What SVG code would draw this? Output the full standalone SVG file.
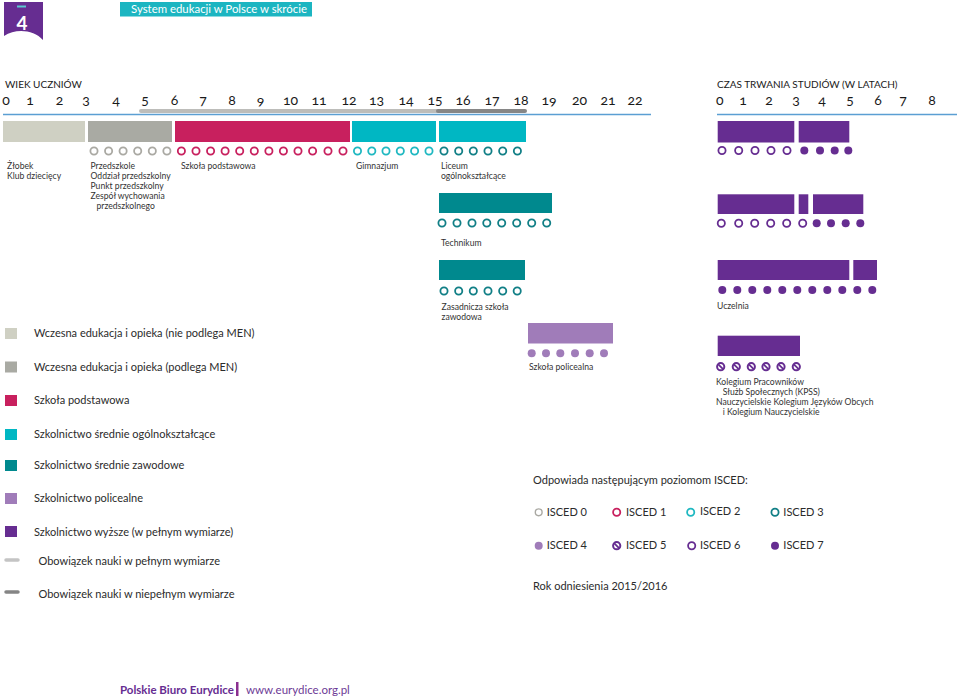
<svg xmlns="http://www.w3.org/2000/svg" xmlns:xlink="http://www.w3.org/1999/xlink" width="960" height="697" viewBox="0 0 960 697">
<style>
text{font-family:Lato,"Liberation Sans",sans-serif;fill:#2b2b2b}
.num{font-size:14px;text-anchor:middle;fill:#1a1a1a;font-variant-numeric:oldstyle-nums}
.hd{font-size:10px;fill:#1a1a1a}
.lb{font-size:8.6px;fill:#333}
.lg{font-size:11px;fill:#2b2b2b}
.c0{fill:#fff;stroke:#aaa9a3;stroke-width:1.8}
.c1{fill:#fff;stroke:#c8205e;stroke-width:1.8}
.c2{fill:#fff;stroke:#1fb8c1;stroke-width:1.8}
.c3{fill:#fff;stroke:#117f86;stroke-width:1.8}
.c4{fill:#a07cb9}
.c6{fill:#fff;stroke:#662d91;stroke-width:1.8}
.c7{fill:#662d91}
.pu{fill:#662d91}
</style>
<defs>
<g id="i5"><circle r="3.6" fill="#fff" stroke="#662d91" stroke-width="2"/><line x1="-2.4" y1="-2.4" x2="2.4" y2="2.4" stroke="#662d91" stroke-width="1.8"/></g>
</defs>

<g id="header">
<path d="M4,2 H43 V40 C34,30 16,28 4,36 Z" fill="#662d91"/>
<rect x="17" y="5.5" width="9" height="2" fill="#5bc8d0"/>
<text x="22" y="30" style="font-size:19px;fill:#fff;text-anchor:middle;font-weight:bold">4</text>
<rect x="120" y="2" width="192" height="14.5" fill="#1cb5c1"/>
<text x="131" y="13" style="font-size:11.4px;fill:#fff">System edukacji w Polsce w skrócie</text>
</g>

<g id="age-scale">
<text class="hd" x="5" y="88">WIEK UCZNIÓW</text>
<text class="num" x="6" y="105">0</text>
<text class="num" x="30" y="105">1</text>
<text class="num" x="59.5" y="105">2</text>
<text class="num" x="86" y="105">3</text>
<text class="num" x="116" y="105">4</text>
<text class="num" x="145" y="105">5</text>
<text class="num" x="174.5" y="105">6</text>
<text class="num" x="203" y="105">7</text>
<text class="num" x="232" y="105">8</text>
<text class="num" x="260.5" y="105">9</text>
<text class="num" x="290.5" y="105">10</text>
<text class="num" x="319" y="105">11</text>
<text class="num" x="349" y="105">12</text>
<text class="num" x="376.5" y="105">13</text>
<text class="num" x="406" y="105">14</text>
<text class="num" x="435" y="105">15</text>
<text class="num" x="463" y="105">16</text>
<text class="num" x="492" y="105">17</text>
<text class="num" x="521" y="105">18</text>
<text class="num" x="549" y="105">19</text>
<text class="num" x="579.5" y="105">20</text>
<text class="num" x="608" y="105">21</text>
<text class="num" x="635" y="105">22</text>
<line x1="141" y1="111" x2="437" y2="111" stroke="#bdbdba" stroke-width="4" stroke-linecap="round"/>
<line x1="438" y1="111" x2="525" y2="111" stroke="#868686" stroke-width="4" stroke-linecap="round"/>
<line x1="3" y1="114.5" x2="651" y2="114.5" stroke="#5b9fd3" stroke-width="1.5"/>
</g>

<g id="duration-scale">
<text class="hd" x="717" y="88">CZAS TRWANIA STUDIÓW (W LATACH)</text>
<text class="num" x="719.7" y="105">0</text>
<text class="num" x="743" y="105">1</text>
<text class="num" x="769" y="105">2</text>
<text class="num" x="796" y="105">3</text>
<text class="num" x="822" y="105">4</text>
<text class="num" x="850" y="105">5</text>
<text class="num" x="878" y="105">6</text>
<text class="num" x="903" y="105">7</text>
<text class="num" x="932" y="105">8</text>
<line x1="717" y1="114.5" x2="957" y2="114.5" stroke="#5b9fd3" stroke-width="1.5"/>
</g>

<g id="zlobek">
<rect x="3" y="121" width="82" height="21" fill="#cfd0c3"/>
<text class="lb" x="7" y="169">Żłobek</text>
<text class="lb" x="7" y="179">Klub dziecięcy</text>
</g>

<g id="przedszkole">
<rect x="88" y="121" width="84" height="21" fill="#a9aaa3"/>
<circle class="c0" cx="94" cy="151" r="3.6"/><circle class="c0" cx="108.6" cy="151" r="3.6"/><circle class="c0" cx="123.1" cy="151" r="3.6"/><circle class="c0" cx="137.7" cy="151" r="3.6"/><circle class="c0" cx="152.3" cy="151" r="3.6"/><circle class="c0" cx="166.9" cy="151" r="3.6"/>
<text class="lb" x="90.5" y="169">Przedszkole</text>
<text class="lb" x="90.5" y="179">Oddział przedszkolny</text>
<text class="lb" x="90.5" y="189">Punkt przedszkolny</text>
<text class="lb" x="90.5" y="199">Zespół wychowania</text>
<text class="lb" x="96.5" y="209">przedszkolnego</text>
</g>

<g id="szkola-podstawowa">
<rect x="175" y="121" width="175" height="21" fill="#c8205e"/>
<circle class="c1" cx="181.4" cy="151" r="3.6"/><circle class="c1" cx="196" cy="151" r="3.6"/><circle class="c1" cx="210.6" cy="151" r="3.6"/><circle class="c1" cx="225.1" cy="151" r="3.6"/><circle class="c1" cx="239.7" cy="151" r="3.6"/><circle class="c1" cx="254.3" cy="151" r="3.6"/><circle class="c1" cx="268.9" cy="151" r="3.6"/><circle class="c1" cx="283.4" cy="151" r="3.6"/><circle class="c1" cx="298" cy="151" r="3.6"/><circle class="c1" cx="312.6" cy="151" r="3.6"/><circle class="c1" cx="328" cy="151" r="3.6"/><circle class="c1" cx="343" cy="151" r="3.6"/>
<text class="lb" x="181" y="169">Szkoła podstawowa</text>
</g>

<g id="gimnazjum">
<rect x="352" y="121" width="84" height="21" fill="#00b7c3"/>
<circle class="c2" cx="357.5" cy="151" r="3.6"/><circle class="c2" cx="371.8" cy="151" r="3.6"/><circle class="c2" cx="386" cy="151" r="3.6"/><circle class="c2" cx="400.3" cy="151" r="3.6"/><circle class="c2" cx="414.6" cy="151" r="3.6"/><circle class="c2" cx="429" cy="151" r="3.6"/>
<text class="lb" x="356" y="169">Gimnazjum</text>
</g>

<g id="liceum">
<rect x="439" y="121" width="87" height="21" fill="#00b7c3"/>
<circle class="c3" cx="444" cy="151" r="3.6"/><circle class="c3" cx="458.7" cy="151" r="3.6"/><circle class="c3" cx="473.3" cy="151" r="3.6"/><circle class="c3" cx="488" cy="151" r="3.6"/><circle class="c3" cx="502.7" cy="151" r="3.6"/><circle class="c3" cx="517.4" cy="151" r="3.6"/>
<text class="lb" x="441" y="169">Liceum</text>
<text class="lb" x="441" y="179">ogólnokształcące</text>
</g>

<g id="technikum">
<rect x="439" y="193" width="113" height="20" fill="#00898e"/>
<circle class="c3" cx="442" cy="223" r="3.6"/><circle class="c3" cx="457" cy="223" r="3.6"/><circle class="c3" cx="472" cy="223" r="3.6"/><circle class="c3" cx="486.8" cy="223" r="3.6"/><circle class="c3" cx="501.7" cy="223" r="3.6"/><circle class="c3" cx="516.7" cy="223" r="3.6"/><circle class="c3" cx="531.7" cy="223" r="3.6"/><circle class="c3" cx="546.7" cy="223" r="3.6"/>
<text class="lb" x="441" y="246">Technikum</text>
</g>

<g id="zasadnicza">
<rect x="439" y="260" width="86" height="20" fill="#00898e"/>
<circle class="c3" cx="444" cy="291" r="3.6"/><circle class="c3" cx="458.7" cy="291" r="3.6"/><circle class="c3" cx="473.3" cy="291" r="3.6"/><circle class="c3" cx="488" cy="291" r="3.6"/><circle class="c3" cx="502.7" cy="291" r="3.6"/><circle class="c3" cx="517.2" cy="291" r="3.6"/>
<text class="lb" x="441.5" y="310">Zasadnicza szkoła</text>
<text class="lb" x="441.5" y="320">zawodowa</text>
</g>

<g id="policealna">
<rect x="528" y="323" width="85" height="20.5" fill="#a07cb9"/>
<circle class="c4" cx="531.7" cy="353.3" r="4"/><circle class="c4" cx="546" cy="353.3" r="4"/><circle class="c4" cx="560.3" cy="353.3" r="4"/><circle class="c4" cx="575" cy="353.3" r="4"/><circle class="c4" cx="589.7" cy="353.3" r="4"/><circle class="c4" cx="604" cy="353.3" r="4"/>
<text class="lb" x="529" y="370">Szkoła policealna</text>
</g>

<g id="studia-1">
<rect x="717.7" y="121" width="76.6" height="21.5" class="pu"/>
<rect x="798.7" y="121" width="50.6" height="21.5" class="pu"/>
<circle class="c6" cx="722" cy="150.5" r="3.6"/><circle class="c6" cx="738.7" cy="150.5" r="3.6"/><circle class="c6" cx="755" cy="150.5" r="3.6"/><circle class="c6" cx="771" cy="150.5" r="3.6"/><circle class="c6" cx="787" cy="150.5" r="3.6"/>
<circle class="c7" cx="804.3" cy="150.5" r="4"/><circle class="c7" cx="820" cy="150.5" r="4"/><circle class="c7" cx="834.7" cy="150.5" r="4"/><circle class="c7" cx="848.3" cy="150.5" r="4"/>
</g>

<g id="studia-2">
<rect x="717.7" y="194.3" width="76.6" height="19.7" class="pu"/>
<rect x="798.7" y="194.3" width="9.6" height="19.7" class="pu"/>
<rect x="813" y="194.3" width="50.3" height="19.7" class="pu"/>
<circle class="c6" cx="721.3" cy="223.3" r="3.6"/><circle class="c6" cx="738.7" cy="223.3" r="3.6"/><circle class="c6" cx="754.7" cy="223.3" r="3.6"/><circle class="c6" cx="770.7" cy="223.3" r="3.6"/><circle class="c6" cx="786.7" cy="223.3" r="3.6"/><circle class="c6" cx="802.7" cy="223.3" r="3.6"/>
<circle class="c7" cx="816.7" cy="223.3" r="4"/><circle class="c7" cx="831" cy="223.3" r="4"/><circle class="c7" cx="845.7" cy="223.3" r="4"/><circle class="c7" cx="860.3" cy="223.3" r="4"/>
</g>

<g id="uczelnia">
<rect x="717.7" y="260" width="131.6" height="20" class="pu"/>
<rect x="853.3" y="260" width="23.7" height="20" class="pu"/>
<circle class="c7" cx="722.3" cy="290" r="4"/><circle class="c7" cx="737.3" cy="290" r="4"/><circle class="c7" cx="752.3" cy="290" r="4"/><circle class="c7" cx="767.3" cy="290" r="4"/><circle class="c7" cx="782.3" cy="290" r="4"/><circle class="c7" cx="797.3" cy="290" r="4"/><circle class="c7" cx="812.3" cy="290" r="4"/><circle class="c7" cx="827.3" cy="290" r="4"/><circle class="c7" cx="842.3" cy="290" r="4"/><circle class="c7" cx="857.3" cy="290" r="4"/><circle class="c7" cx="872.3" cy="290" r="4"/>
<text class="lb" x="717" y="309">Uczelnia</text>
</g>

<g id="kolegia">
<rect x="717.7" y="335.7" width="82.3" height="20.3" class="pu"/>
<use xlink:href="#i5" x="720.7" y="366.7"/><use xlink:href="#i5" x="736.3" y="366.7"/><use xlink:href="#i5" x="751.3" y="366.7"/><use xlink:href="#i5" x="766" y="366.7"/><use xlink:href="#i5" x="781" y="366.7"/><use xlink:href="#i5" x="796.3" y="366.7"/>
<text class="lb" x="716" y="385">Kolegium Pracowników</text>
<text class="lb" x="722.7" y="395">Służb Społecznych (KPSS)</text>
<text class="lb" x="716" y="405">Nauczycielskie Kolegium Języków Obcych</text>
<text class="lb" x="722.7" y="415">i Kolegium Nauczycielskie</text>
</g>

<g id="legend">
<rect x="5" y="328" width="12" height="11" fill="#cfd0c3"/>
<text class="lg" x="34" y="337">Wczesna edukacja i opieka (nie podlega MEN)</text>
<rect x="5" y="361.5" width="12" height="11" fill="#a9aaa3"/>
<text class="lg" x="34" y="371">Wczesna edukacja i opieka (podlega MEN)</text>
<rect x="5" y="395" width="12" height="11" fill="#c8205e"/>
<text class="lg" x="34" y="404">Szkoła podstawowa</text>
<rect x="5" y="429" width="12" height="11" fill="#00b7c3"/>
<text class="lg" x="34" y="438">Szkolnictwo średnie ogólnokształcące</text>
<rect x="5" y="460" width="12" height="11" fill="#00898e"/>
<text class="lg" x="34" y="469">Szkolnictwo średnie zawodowe</text>
<rect x="5" y="493" width="12" height="11" fill="#a07cb9"/>
<text class="lg" x="34" y="502">Szkolnictwo policealne</text>
<rect x="5" y="526" width="12" height="11" fill="#662d91"/>
<text class="lg" x="34" y="536">Szkolnictwo wyższe (w pełnym wymiarze)</text>
<line x1="6" y1="560" x2="18" y2="560" stroke="#c4c4c4" stroke-width="3.5" stroke-linecap="round"/>
<text class="lg" x="38.5" y="565">Obowiązek nauki w pełnym wymiarze</text>
<line x1="6" y1="592" x2="18" y2="592" stroke="#858585" stroke-width="3.5" stroke-linecap="round"/>
<text class="lg" x="38.5" y="598">Obowiązek nauki w niepełnym wymiarze</text>
</g>

<g id="isced-legend">
<text class="lg" x="533" y="484">Odpowiada następującym poziomom ISCED:</text>
<circle class="c0" cx="538.7" cy="512.3" r="3.4" style="stroke-width:1.4"/>
<text class="lg" x="546.7" y="516">ISCED 0</text>
<circle class="c1" cx="616.7" cy="512.3" r="3.6"/>
<text class="lg" x="626" y="516">ISCED 1</text>
<circle class="c2" cx="690.7" cy="512.3" r="3.6"/>
<text class="lg" x="700" y="514.5">ISCED 2</text>
<circle class="c3" cx="775" cy="512.3" r="3.6"/>
<text class="lg" x="783.3" y="516">ISCED 3</text>
<circle class="c4" cx="538.7" cy="545.7" r="4"/>
<text class="lg" x="546.7" y="549">ISCED 4</text>
<use xlink:href="#i5" x="616.7" y="545.7"/>
<text class="lg" x="626" y="549">ISCED 5</text>
<circle class="c6" cx="691.7" cy="545.7" r="3.6"/>
<text class="lg" x="700" y="549">ISCED 6</text>
<circle class="c7" cx="775" cy="545.7" r="4"/>
<text class="lg" x="783.3" y="549">ISCED 7</text>
<text class="lg" x="533" y="590">Rok odniesienia 2015/2016</text>
</g>

<g id="footer">
<text x="120" y="694" style="font-size:11.5px;fill:#662d91;font-weight:bold">Polskie Biuro Eurydice</text>
<rect x="236" y="682" width="2.5" height="14" fill="#8a2f8f"/>
<text x="246" y="694" style="font-size:11.5px;fill:#6d3a96">www.eurydice.org.pl</text>
</g>
</svg>
